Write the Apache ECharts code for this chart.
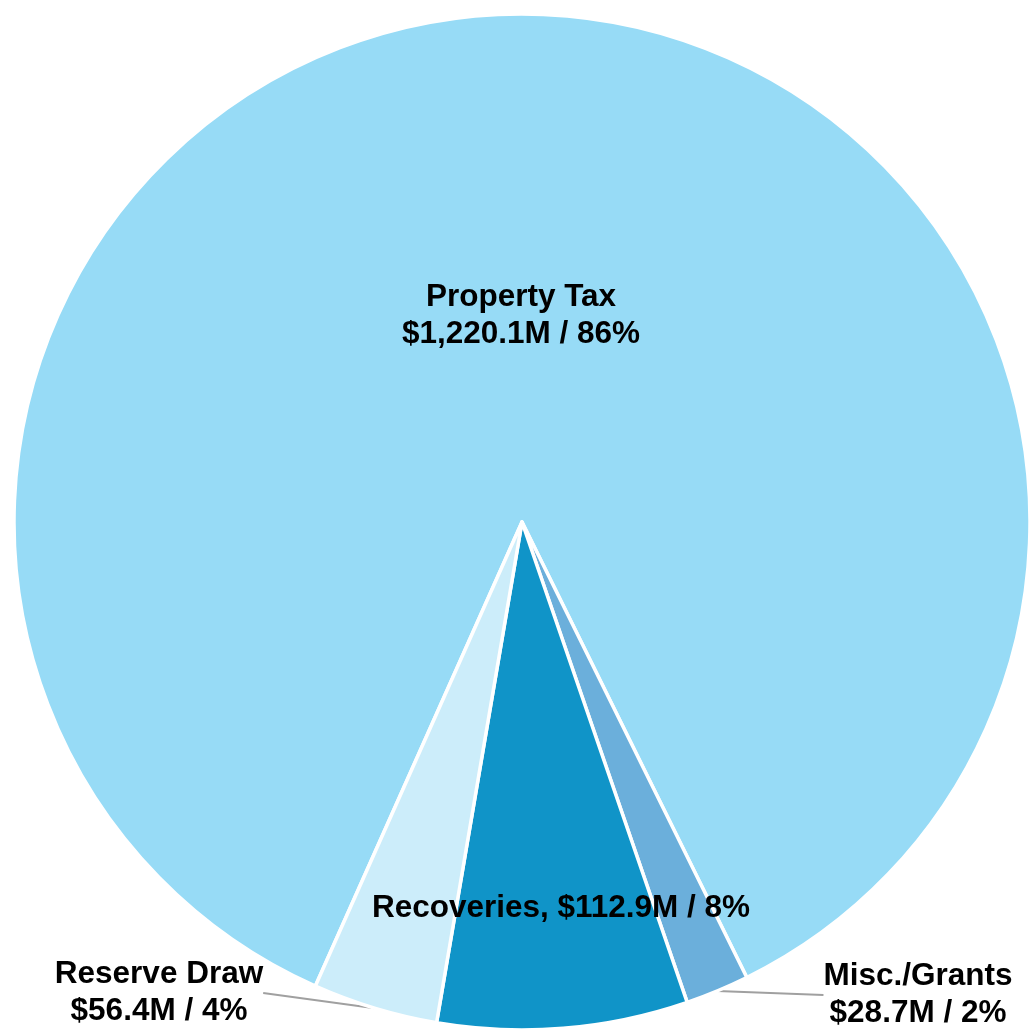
<!DOCTYPE html>
<html>
<head>
<meta charset="utf-8">
<script src="https://cdn.jsdelivr.net/npm/echarts@6/dist/echarts.min.js"></script>
<style>
html,body{margin:0;padding:0;background:#fff;}
#chart{width:1031px;height:1032px;}
</style>
</head>
<body>
<div id="chart"></div>
<script>
// Data
const categories = ['Property Tax', 'Misc./Grants', 'Recoveries', 'Reserve Draw'];
const values = [1220.1, 28.7, 112.9, 56.4];
const colors = ['#97DBF6', '#6BAFDB', '#1094C8', '#CCEDFA'];
const labelStyles = ['twoLine', 'twoLine', 'oneLine', 'twoLine'];
const labelPositions = ['inside', 'outside', 'inside', 'outside'];

// label anchor positions (layout only)
const labelXY = [[521, 316], [918, 995], [561, 908], [159, 993]];

function money(v) {
  return '$' + v.toLocaleString('en-US', {minimumFractionDigits: 1, maximumFractionDigits: 1}) + 'M';
}

const chart = echarts.init(document.getElementById('chart'), null, {renderer: 'canvas'});

const data = categories.map((name, i) => ({
  name: name,
  value: values[i],
  itemStyle: {color: colors[i]},
  label: {
    position: labelPositions[i],
    formatter: function (p) {
      const pct = Math.round(p.percent) + '%';
      return labelStyles[i] === 'oneLine'
        ? p.name + ', ' + money(p.value) + ' / ' + pct
        : p.name + '\n' + money(p.value) + ' / ' + pct;
    }
  },
  labelLine: {show: labelPositions[i] === 'outside'}
}));

chart.setOption({
  animation: false,
  backgroundColor: '#ffffff',
  series: [{
    type: 'pie',
    center: [522, 522],
    radius: [0, 508],
    startAngle: 246,
    clockwise: true,
    avoidLabelOverlap: false,
    itemStyle: {borderColor: '#ffffff', borderWidth: 3.5},
    label: {
      show: true,
      color: '#000000',
      fontFamily: '"Liberation Sans", Arial, sans-serif',
      fontWeight: 'bold',
      fontSize: 31.5,
      lineHeight: 37,
      align: 'center'
    },
    labelLine: {
      show: true,
      length: 10,
      length2: 0,
      smooth: false,
      lineStyle: {color: '#A0A0A0', width: 2}
    },
    labelLayout: function (params) {
      const xy = labelXY[params.dataIndex];
      return {x: xy[0], y: xy[1], align: 'center', verticalAlign: 'middle'};
    },
    emphasis: {disabled: true},
    data: data
  }]
});
</script>
</body>
</html>
